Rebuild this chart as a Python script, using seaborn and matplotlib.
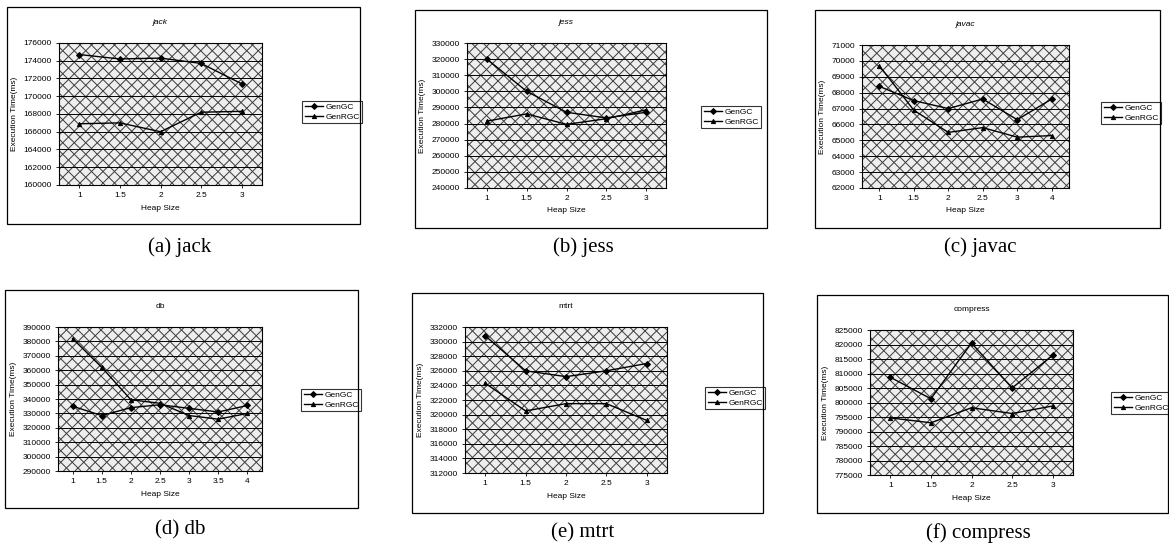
import numpy as np
import pandas as pd
import seaborn as sns
import matplotlib
matplotlib.use('Agg')
import matplotlib.pyplot as plt
import matplotlib.transforms as mtransforms
from matplotlib.patches import Rectangle
from matplotlib.collections import LineCollection
from matplotlib.ticker import FuncFormatter

# heap sizes (categories on the x axis)
heap_5 = ['1', '1.5', '2', '2.5', '3']
heap_javac = ['1', '1.5', '2', '2.5', '3', '4']
heap_db = ['1', '1.5', '2', '2.5', '3', '3.5', '4']

# execution time (ms)
jack_gengc = [174700, 174200, 174300, 173700, 171400]
jack_genrgc = [166900, 167000, 166000, 168200, 168300]

jess_gengc = [320000, 300000, 287000, 283500, 287000]
jess_genrgc = [281500, 286000, 279500, 283000, 288500]

javac_gengc = [68400, 67500, 67000, 67600, 66300, 67600]
javac_genrgc = [69700, 66900, 65500, 65800, 65200, 65300]

db_gengc = [335000, 328500, 334000, 336000, 333500, 331000, 335500]
db_genrgc = [382000, 362000, 339500, 337000, 328500, 326000, 330000]

mtrt_gengc = [330800, 326000, 325200, 326000, 327000]
mtrt_genrgc = [324300, 320500, 321500, 321500, 319200]

compress_gengc = [808700, 801300, 820500, 805000, 816300]
compress_genrgc = [794700, 793000, 798200, 796200, 798800]

series_names = ['GenGC', 'GenRGC']

W, H = 1169, 548
plt.rcParams['font.family'] = ['Liberation Sans', 'DejaVu Sans']

fig = plt.figure(figsize=(W / 100, H / 100), dpi=100)


def cross_hatch(ax, wpx, hpx, spacing=11.5):
    # Excel style diagonal cross pattern behind the plot, spacing in pixels
    tr = mtransforms.Affine2D().scale(1 / wpx, 1 / hpx) + ax.transAxes
    segs = []
    for c in np.arange(-hpx, wpx + hpx, spacing):
        segs.append([(c, 0), (c + hpx, hpx)])
        segs.append([(c, hpx), (c + hpx, 0)])
    lc = LineCollection(segs, colors='#3a3a3a', linewidths=0.7,
                        transform=tr, zorder=0)
    ax.add_collection(lc, autolim=False)


# (name, caption, heap, gengc, genrgc, ylim, step, plot px box, chart px box, legend px (left, center y), caption px)
panels = [
    ('jack', '(a) jack', heap_5, jack_gengc, jack_genrgc, (160000, 176000), 2000,
     (59, 43, 262, 185), (7, 7, 360, 224), (298, 112), (180, 247), True),
    ('jess', '(b) jess', heap_5, jess_gengc, jess_genrgc, (240000, 330000), 10000,
     (467, 43, 666, 188), (415, 10, 767, 228), (697, 117), (583, 247), True),
    ('javac', '(c) javac', heap_javac, javac_gengc, javac_genrgc, (62000, 71000), 1000,
     (862, 45, 1069, 188), (815, 10, 1160, 228), (1097, 113), (980, 247), True),
    ('db', '(d) db', heap_db, db_gengc, db_genrgc, (290000, 390000), 10000,
     (58, 327, 262, 471), (5, 290, 358, 508), (297, 400), (180, 530), False),
    ('mtrt', '(e) mtrt', heap_5, mtrt_gengc, mtrt_genrgc, (312000, 332000), 2000,
     (465, 327, 667, 473), (412, 293, 763, 513), (701, 398), (583, 533), False),
    ('compress', '(f) compress', heap_5, compress_gengc, compress_genrgc, (775000, 825000), 5000,
     (870, 330, 1073, 475), (817, 295, 1168, 513), (1107, 403), (978, 533), False),
]

for (name, cap, heap, gen, rgen, ylim, step, pbox, cbox, lpos, cpos, ital) in panels:
    x0, y0, x1, y1 = pbox
    ax = fig.add_axes([x0 / W, 1 - y1 / H, (x1 - x0) / W, (y1 - y0) / H])
    ax.set_facecolor('#eeeeee')
    cross_hatch(ax, x1 - x0, y1 - y0)

    df = pd.DataFrame({
        'Heap Size': heap * 2,
        'time': gen + rgen,
        'gc': [series_names[0]] * len(heap) + [series_names[1]] * len(heap),
    })
    sns.pointplot(data=df, x='Heap Size', y='time', hue='gc', order=heap,
                  hue_order=series_names, palette=['black', 'black'],
                  markers=['D', '^'], linestyles=['-', '-'], markersize=3,
                  linewidth=1.0, errorbar=None, ax=ax)

    ax.set_ylim(*ylim)
    ax.set_yticks(np.arange(ylim[0], ylim[1] + step, step))
    ax.yaxis.set_major_formatter(FuncFormatter(lambda v, p: '%d' % v))
    ax.set_xlim(-0.5, len(heap) - 0.5)
    ax.grid(axis='y', color='black', lw=0.7, zorder=1)
    ax.set_axisbelow(False)
    for sp in ax.spines.values():
        sp.set_color('black')
        sp.set_linewidth(0.8)
    ax.tick_params(labelsize=6, length=2, width=0.6, pad=3)
    ax.set_xlabel('Heap Size', fontsize=6, labelpad=4)
    ax.set_ylabel('Execution Time(ms)', fontsize=6, labelpad=4)
    ax.set_title(name, fontsize=6, style='italic' if ital else 'normal', pad=14)

    sns.move_legend(ax, 'center left', bbox_to_anchor=(lpos[0] / W, 1 - lpos[1] / H),
                    bbox_transform=fig.transFigure, title=None, frameon=True,
                    fontsize=6, handlelength=2.2, borderpad=0.3, labelspacing=0.2,
                    handletextpad=0.3, fancybox=False, edgecolor='black')
    ax.get_legend().get_frame().set_linewidth(0.8)

    bx0, by0, bx1, by1 = cbox
    fig.patches.append(Rectangle((bx0 / W, 1 - by1 / H), (bx1 - bx0) / W, (by1 - by0) / H,
                                 transform=fig.transFigure, fill=False,
                                 ec='black', lw=0.9))
    fig.text(cpos[0] / W, 1 - cpos[1] / H, cap, ha='center', va='center',
             fontsize=15, family='Liberation Serif')

fig.savefig('out.png', dpi=100)
